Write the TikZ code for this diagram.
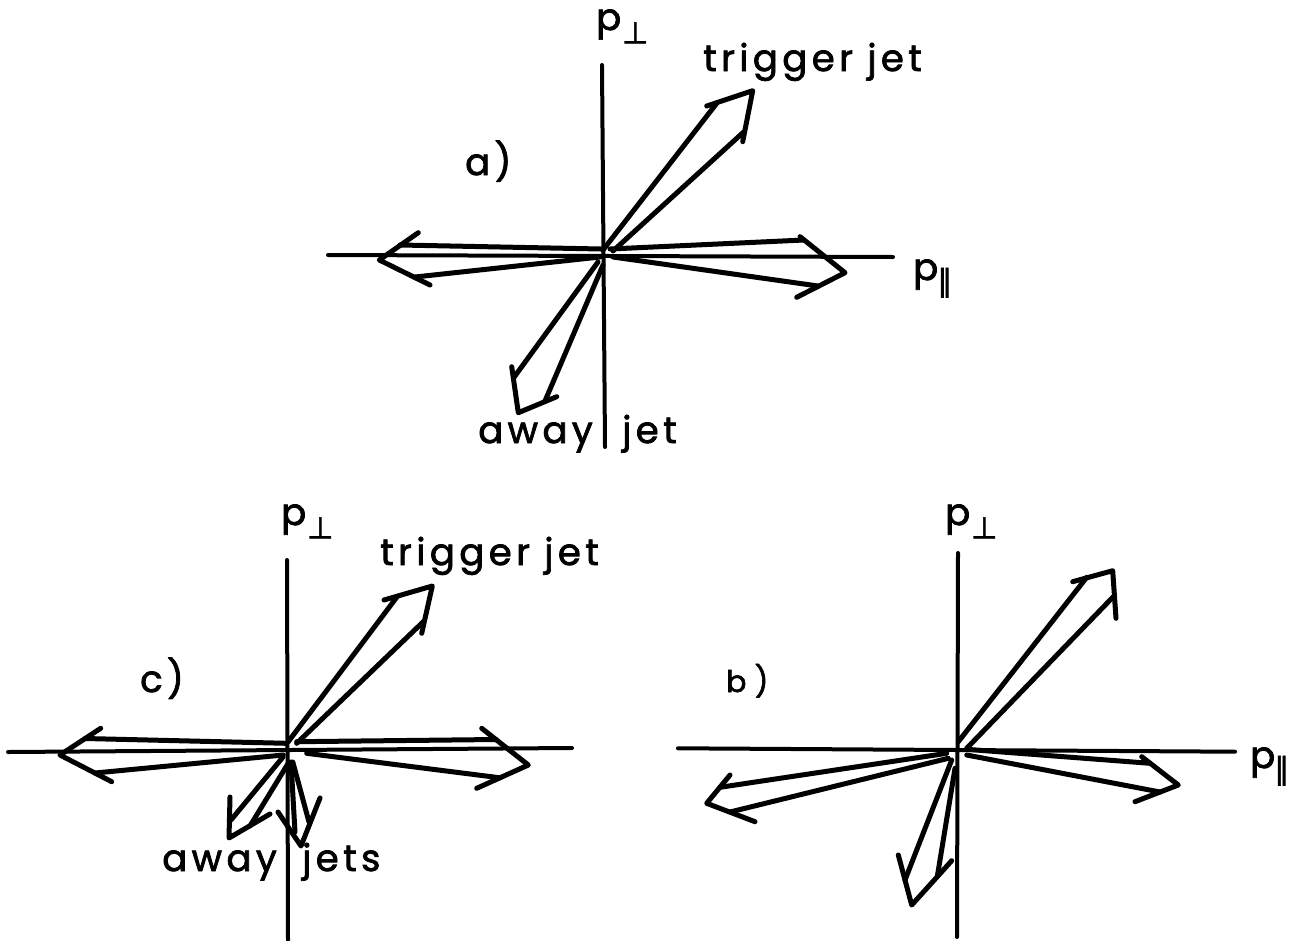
\documentclass[tikz,border=0pt]{standalone}
\usepackage{fontspec}
\newfontfamily\lettering[LetterSpace=12,FakeBold=2]{Poppins}
\newfontfamily\symf[FakeBold=2]{DejaVu Sans}
\newcommand\lbl{\lettering\fontsize{37}{40}\selectfont}
\newcommand\pperp{p\kern1pt\raisebox{-0.36em}{\symf\fontsize{30}{30}\selectfont ⊥}}
\newcommand\ppar{p\kern-1pt\raisebox{-0.3em}{\symf\fontsize{30}{30}\selectfont ∥}}
\begin{document}
\begin{tikzpicture}[x=1pt,y=-1pt,
  axis/.style={line width=4pt,line cap=round},
  jet/.style={line width=5pt,line cap=round,line join=round},
  txt/.style={inner sep=0pt,font=\lbl}]
\useasboundingbox (0,0) rectangle (1312,940);

% ---------------- panel a ----------------
\coordinate (aL) at (328,255); \coordinate (aR) at (893,257);
\coordinate (aT) at (602,65);  \coordinate (aB) at (605,447);
\draw[axis] (aL) -- (aR);
\draw[axis] (aT) -- (aB);
% trigger jet
\draw[jet] (603,250) -- (716.7,103.3);
\draw[jet] (706.7,106) -- (752.7,90.7) -- (742.7,141.7);
\draw[jet] (613,251) -- (744,131.7);
% left
\draw[jet] (601,249) -- (400,245);
\draw[jet] (418.3,232.7) -- (379.3,260) -- (430,285);
\draw[jet] (600,257) -- (415,277);
% right
\draw[jet] (610,249) -- (804,240);
\draw[jet] (800,236.7) -- (845,272.7) -- (796.7,297.3);
\draw[jet] (613,257) -- (818,286);
% away
\draw[jet] (598,262) -- (513.5,378);
\draw[jet] (511.7,366.7) -- (518.3,412.7) -- (556.7,396.7);
\draw[jet] (603,265) -- (545,401);
\node[txt,anchor=base west] (aperp) at (596,30) {\pperp};
\node[txt,anchor=base west] (apar) at (913,280) {\ppar};
\node[txt,anchor=base west] (atrig) at (703,71) {trigger jet};
\node[txt,anchor=base west] (alab) at (465,175) {a)};
\node[txt,anchor=base east] (aaway) at (593,443) {away};
\node[txt,anchor=base west] (ajet) at (622,443) {jet};

% ---------------- panel c ----------------
\coordinate (cL) at (8,752);   \coordinate (cR) at (572,748);
\coordinate (cT) at (287,560); \coordinate (cB) at (288,940);
\draw[axis] (cL) -- (cR);
\draw[axis] (cT) -- (cB);
% trigger
\draw[jet] (288,742) -- (396.7,597.3);
\draw[jet] (384,600) -- (432.3,586) -- (421.7,633.3);
\draw[jet] (296.7,743.3) -- (423.3,621.7);
% right
\draw[jet] (296.7,741.7) -- (496,739.5);
\draw[jet] (481.7,728.3) -- (528.3,765) -- (476.7,788.3);
\draw[jet] (306.7,753.3) -- (500,777.8);
% left
\draw[jet] (286.7,743.3) -- (85,738.5);
\draw[jet] (100.7,728.3) -- (60,755) -- (111.7,781.7);
\draw[jet] (283.3,755) -- (95,773);
% away 1
\draw[jet] (283,757) -- (231,820);
\draw[jet] (230,797) -- (229,838) -- (270,814);
\draw[jet] (289,762) -- (250,826);
% away 2
\draw[jet] (291,762) -- (295,832);
\draw[jet] (278,812) -- (301,846) -- (320,798);
\draw[jet] (292.8,762) -- (309,822);
\node[txt,anchor=base west] (cperp) at (281,525) {\pperp};
\node[txt,anchor=base west] (ctrig) at (380,565) {trigger jet};
\node[txt,anchor=base west] (clab) at (140,692) {c)};
\node[txt,anchor=base east] (caway) at (277,871) {away};
\node[txt,anchor=base west] (cjets) at (302,871) {jets};

% ---------------- panel b ----------------
\coordinate (bL) at (678,748.3); \coordinate (bR) at (1235,751.7);
\coordinate (bT) at (958,553);   \coordinate (bB) at (957,937);
\draw[axis] (bL) -- (bR);
\draw[axis] (bT) -- (bB);
% trigger
\draw[jet] (958.3,741.7) -- (1086.7,577.3);
\draw[jet] (1072.7,581.7) -- (1112.7,570.7) -- (1116,618.3);
\draw[jet] (966.7,748.3) -- (1113.3,596.7);
% right
\draw[jet] (966.7,749.3) -- (1150,763.3);
\draw[jet] (1141.7,756.7) -- (1178.3,785) -- (1135,801.7);
\draw[jet] (966.7,755) -- (1160,792);
% left
\draw[jet] (946.7,753.3) -- (720,787.3);
\draw[jet] (730,775) -- (706.7,803.3) -- (755,821.7);
\draw[jet] (948.3,758.3) -- (730,812);
% away
\draw[jet] (951.7,760) -- (905,880);
\draw[jet] (898.3,855) -- (911.7,905) -- (951.7,860.7);
\draw[jet] (955,768.3) -- (937.3,876.6);
\node[txt,anchor=base west] (bperp) at (945,525) {\pperp};
\node[txt,anchor=base west] (bpar) at (1250,768) {\ppar};
\node[txt,anchor=base west,font=\lettering\fontsize{30}{34}\selectfont] (blab) at (726,692) {b\;)};
\end{tikzpicture}
\end{document}
